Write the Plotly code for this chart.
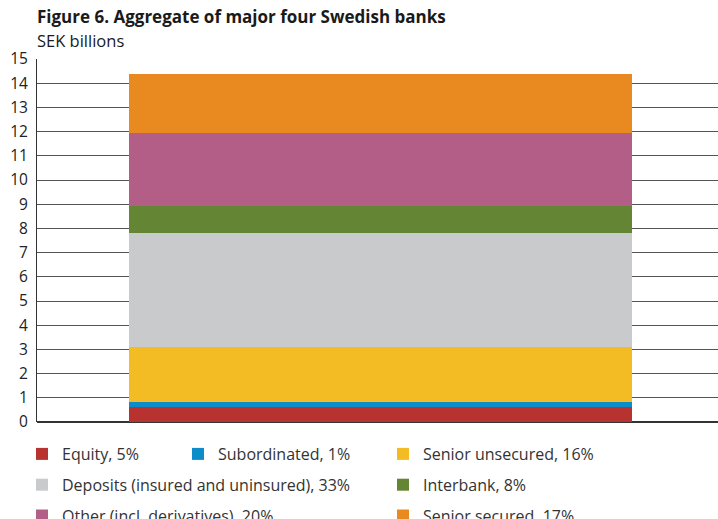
import plotly.graph_objects as go

# Funding structure of the four major Swedish banks (SEK billions)
categories = ["Aggregate"]
series_names = [
    "Equity, 5%",
    "Subordinated, 1%",
    "Senior unsecured, 16%",
    "Deposits (insured and uninsured), 33%",
    "Interbank, 8%",
    "Other (incl. derivatives), 20%",
    "Senior secured, 17%",
]
series_values = [0.60, 0.22, 2.26, 4.73, 1.12, 3.00, 2.47]
series_colors = ["#B83230", "#0C8CC8", "#F3BC24", "#C9CACC", "#648533", "#B35E86", "#E88A1F"]
# which legend column each series appears in
legend_column = ["legend", "legend2", "legend3", "legend", "legend3", "legend", "legend3"]

y_ticks = list(range(0, 16))

title_text = "Figure 6. Aggregate of major four Swedish banks"
subtitle_text = "SEK billions"

FONT = "Open Sans"
W, H = 718, 519
ML, MR, MT, MB = 37, 0, 59, 97
plot_w = W - ML - MR
plot_h = H - MT - MB

fig = go.Figure()
for name, val, col, leg in zip(series_names, series_values, series_colors, legend_column):
    fig.add_trace(go.Bar(
        x=categories, y=[val], name=name,
        marker=dict(color=col, line=dict(width=0)),
        width=0.739,
        legend=leg,
        legendgroup=name,
    ))

legend_common = dict(
    orientation="v",
    font=dict(family=FONT, size=16, color="#333333"),
    bgcolor="rgba(0,0,0,0)",
    yanchor="top",
    xanchor="left",
    tracegroupgap=7,
    itemwidth=30,
    traceorder="grouped",
    y=-(437 - (H - MB)) / plot_h,
)

fig.update_layout(
    width=W, height=H,
    margin=dict(l=ML, r=MR, t=MT, b=MB, autoexpand=False),
    paper_bgcolor="white",
    plot_bgcolor="white",
    barmode="stack",
    bargap=0,
    showlegend=True,
    xaxis=dict(
        range=[-0.504, 0.496],
        showticklabels=False,
        showgrid=False,
        zeroline=False,
        showline=False,
        ticks="",
    ),
    yaxis=dict(
        range=[0, 15],
        tickvals=y_ticks,
        ticktext=[str(v) for v in y_ticks],
        tickfont=dict(family=FONT, size=15.5, color="#222222"),
        showgrid=True,
        gridcolor="#555555",
        gridwidth=1,
        zeroline=True,
        zerolinecolor="#333333",
        zerolinewidth=2,
        showline=True,
        linecolor="#333333",
        linewidth=1,
        ticks="",
        ticklabelstandoff=5,
    ),
    legend=dict(legend_common, x=(22 - ML) / plot_w),
    legend2=dict(legend_common, x=(178 - ML) / plot_w),
    legend3=dict(legend_common, x=(383 - ML) / plot_w),
    annotations=[
        dict(text=f"<b>{title_text}</b>", xref="paper", yref="paper",
             x=0, y=1 + (MT - 17) / plot_h, yanchor="middle", xanchor="left",
             xshift=-2, showarrow=False,
             font=dict(family=FONT, size=17, color="#1a1a1a")),
        dict(text=subtitle_text, xref="paper", yref="paper",
             x=0, y=1 + (MT - 40) / plot_h, yanchor="middle", xanchor="left",
             xshift=-2, showarrow=False,
             font=dict(family=FONT, size=16.5, color="#1a1a1a")),
    ],
)

fig.write_html("out.html")
